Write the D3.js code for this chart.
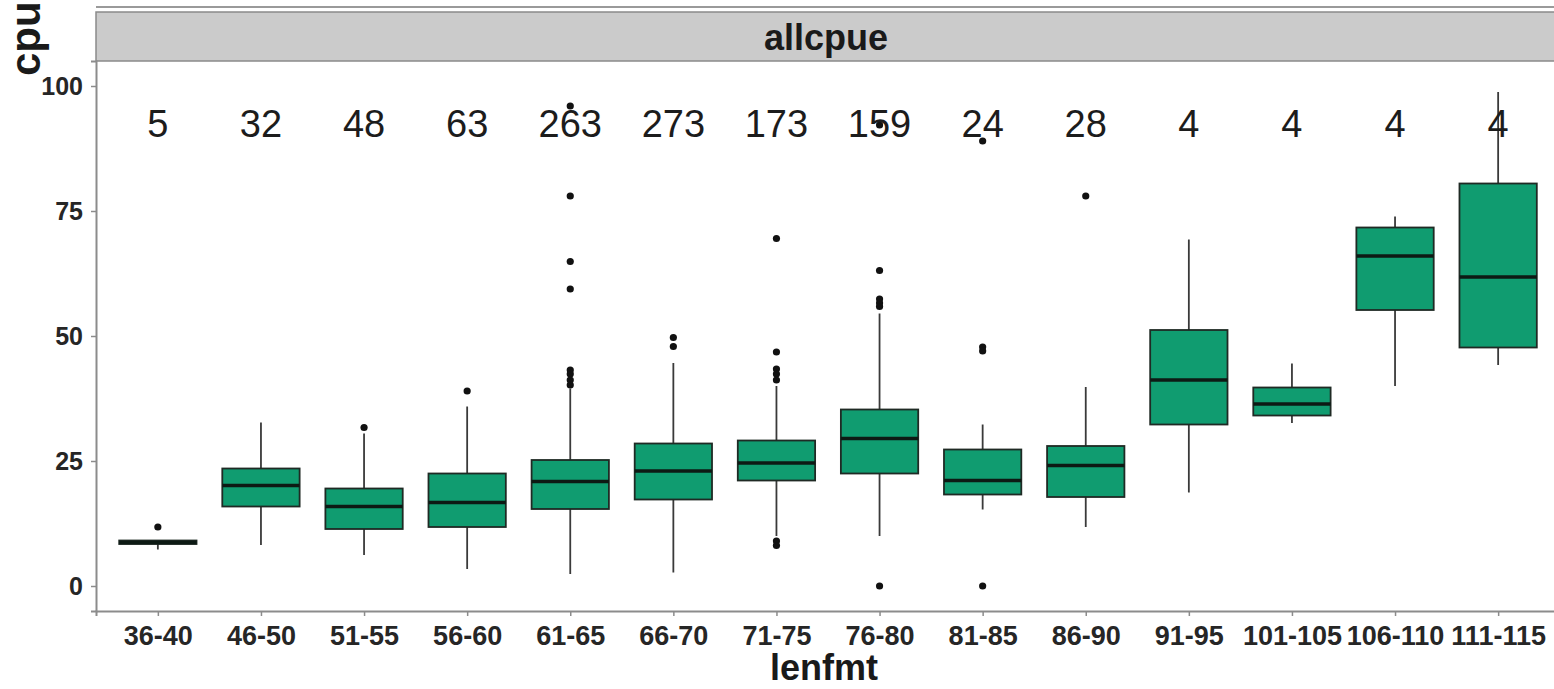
<!doctype html>
<html>
<head>
  <style>
    body { margin: 0; background: #fff; }
    svg { display: block; font-family: "Liberation Sans", Arial, sans-serif; }
  </style>
  <script src="https://cdn.jsdelivr.net/npm/d3@7"></script>
</head>
<body>
  <script>
  // length classes and sample counts
  var cats = ["36-40", "46-50", "51-55", "56-60", "61-65", "66-70", "71-75",
              "76-80", "81-85", "86-90", "91-95", "101-105", "106-110", "111-115"];
  var counts = [5, 32, 48, 63, 263, 273, 173, 159, 24, 28, 4, 4, 4, 4];

  // box statistics
  var lowerW = [7.3, 8.2, 6.2, 3.4, 2.4, 2.7, 10.0, 10.0, 15.3, 11.8, 18.7, 32.6, 40.0, 44.2];
  var q1     = [8.4, 15.9, 11.4, 11.8, 15.4, 17.3, 21.1, 22.5, 18.3, 17.8, 32.3, 34.1, 55.2, 47.7];
  var median = [8.7, 20.1, 15.9, 16.7, 20.9, 23.0, 24.6, 29.5, 21.1, 24.1, 41.2, 36.4, 66.0, 61.8];
  var q3     = [9.1, 23.5, 19.5, 22.5, 25.2, 28.5, 29.1, 35.3, 27.3, 28.0, 51.2, 39.7, 71.7, 80.5];
  var upperW = [9.1, 32.7, 30.5, 35.9, 39.5, 44.6, 40.0, 54.5, 32.3, 39.8, 69.3, 44.5, 73.9, 98.8];
  var outliers = [
    [11.8],
    [],
    [31.7],
    [39.0],
    [96.0, 78.0, 64.9, 59.4, 43.2, 42.4, 41.2, 40.2],
    [49.7, 47.9],
    [69.5, 46.8, 43.4, 42.4, 41.2, 9.0, 8.1],
    [92.2, 63.1, 57.4, 56.6, 55.9, 0.0],
    [89.0, 47.8, 47.0, 0.0],
    [78.0],
    [], [], [], []
  ];
  var yTicks = [0, 25, 50, 75, 100];
  var labelY = 92.5; // where the count labels sit

  var W = 1554, H = 689;
  // panel edges (window.top is taken, so prefixed names)
  var pLeft = 96, pRight = 1560, pTop = 61, pBottom = 611;

  var svg = d3.select("body").append("svg")
    .attr("width", W).attr("height", H);

  var x = d3.scalePoint().domain(cats).range([pLeft, pRight]).padding(0.6);
  var y = d3.scaleLinear().domain([-5, 105]).range([pBottom, pTop]);
  var bw = x.step() * 0.75;

  // strip
  svg.append("line").attr("x1", pLeft).attr("x2", pRight).attr("y1", 7).attr("y2", 7)
    .attr("stroke", "#9a9a9a").attr("stroke-width", 2);
  svg.append("rect").attr("x", pLeft).attr("y", 12).attr("width", pRight - pLeft).attr("height", pTop - 12)
    .attr("fill", "#cbcbcb").attr("stroke", "#8a8a8a").attr("stroke-width", 1.5);
  svg.append("text").attr("x", (pLeft + 1556) / 2).attr("y", 50)
    .attr("text-anchor", "middle").attr("font-size", 36).attr("font-weight", "bold")
    .attr("fill", "#1a1a1a").text("allcpue");

  var data = cats.map(function(c, i) {
    return { c: c, n: counts[i], lo: lowerW[i], q1: q1[i], med: median[i], q3: q3[i], hi: upperW[i], out: outliers[i] };
  });

  var g = svg.selectAll("g.box").data(data).enter().append("g").attr("class", "box");

  // whiskers
  g.append("line")
    .attr("x1", function(d) { return x(d.c); }).attr("x2", function(d) { return x(d.c); })
    .attr("y1", function(d) { return y(d.hi); }).attr("y2", function(d) { return y(d.q3); })
    .attr("stroke", "#3a3a3a").attr("stroke-width", 1.8);
  g.append("line")
    .attr("x1", function(d) { return x(d.c); }).attr("x2", function(d) { return x(d.c); })
    .attr("y1", function(d) { return y(d.q1); }).attr("y2", function(d) { return y(d.lo); })
    .attr("stroke", "#3a3a3a").attr("stroke-width", 1.8);

  // boxes
  g.append("rect")
    .attr("x", function(d) { return x(d.c) - bw / 2; })
    .attr("y", function(d) { return y(d.q3); })
    .attr("width", bw)
    .attr("height", function(d) { return y(d.q1) - y(d.q3); })
    .attr("fill", "#109c70").attr("stroke", "#1f2a24").attr("stroke-width", 1.8);

  // medians
  g.append("line")
    .attr("x1", function(d) { return x(d.c) - bw / 2; }).attr("x2", function(d) { return x(d.c) + bw / 2; })
    .attr("y1", function(d) { return y(d.med); }).attr("y2", function(d) { return y(d.med); })
    .attr("stroke", "#0d1a14").attr("stroke-width", 3.5);

  // outliers
  g.selectAll("circle").data(function(d) { return d.out.map(function(v) { return { c: d.c, v: v }; }); })
    .enter().append("circle")
    .attr("cx", function(d) { return x(d.c); })
    .attr("cy", function(d) { return y(d.v); })
    .attr("r", 3.6).attr("fill", "#111");

  // counts
  g.append("text")
    .attr("x", function(d) { return x(d.c); })
    .attr("y", y(labelY))
    .attr("dy", "0.36em")
    .attr("text-anchor", "middle").attr("font-size", 38).attr("fill", "#1c1c1c")
    .text(function(d) { return d.n; });

  // axes
  var yAxis = svg.append("g").attr("transform", "translate(" + pLeft + ",0)")
    .call(d3.axisLeft(y).tickValues(yTicks).tickSize(5).tickPadding(8));
  var xAxis = svg.append("g").attr("transform", "translate(0," + pBottom + ")")
    .call(d3.axisBottom(x).tickSize(5).tickPadding(10));

  [yAxis, xAxis].forEach(function(a) {
    a.select(".domain").attr("stroke", "#8c8c8c").attr("stroke-width", 2);
    a.selectAll(".tick line").attr("stroke", "#8c8c8c").attr("stroke-width", 1.5);
    a.selectAll(".tick text").attr("fill", "#262626").attr("font-weight", "bold")
      .attr("font-family", "'Liberation Sans', Arial, sans-serif");
  });
  yAxis.selectAll(".tick text").attr("font-size", 25);
  xAxis.selectAll(".tick text").attr("font-size", 27);

  // axis titles
  svg.append("text").attr("x", (pLeft + pRight) / 2 - 4).attr("y", 680)
    .attr("text-anchor", "middle").attr("font-size", 36).attr("font-weight", "bold")
    .attr("fill", "#1a1a1a").text("lenfmt");
  svg.append("text")
    .attr("transform", "translate(40,76) rotate(-90)")
    .attr("text-anchor", "start").attr("font-size", 42).attr("font-weight", "bold")
    .attr("fill", "#1a1a1a").text("cpue");
  </script>
</body>
</html>
